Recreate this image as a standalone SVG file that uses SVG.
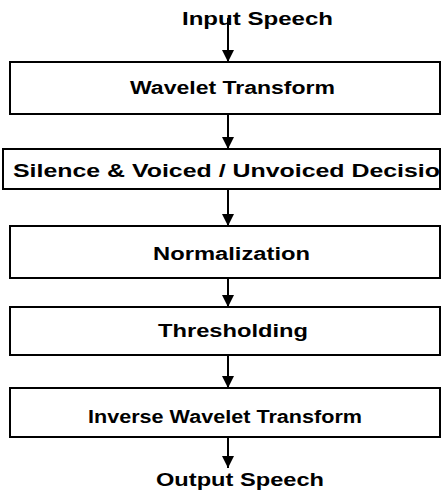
<svg xmlns="http://www.w3.org/2000/svg" width="442" height="492" viewBox="0 0 442 492">
<defs>
<style>
.box{fill:#fff;stroke:#000;stroke-width:2}
.t{font-family:"Liberation Sans",Arial,sans-serif;font-weight:bold;font-size:18px;fill:#000}
.c{stroke:#000;stroke-width:2;fill:none}
</style>
<marker id="ah" viewBox="0 0 12 12" refX="12" refY="6" markerWidth="12" markerHeight="12" markerUnits="userSpaceOnUse" orient="auto">
<path d="M0,0 L12,6 L0,12 Z" fill="#000"/>
</marker>
</defs>
<rect width="442" height="492" fill="#fff"/>
<g id="input"><text class="t" x="182" y="25" textLength="151" lengthAdjust="spacingAndGlyphs">Input Speech</text></g>
<g id="wavelet"><rect class="box" x="10" y="62" width="430" height="52"/><text class="t" x="130" y="94" textLength="205" lengthAdjust="spacingAndGlyphs">Wavelet Transform</text></g>
<g id="decision"><rect class="box" x="3" y="149" width="437" height="40"/><text class="t" x="13" y="177" textLength="427" lengthAdjust="spacingAndGlyphs">Silence &amp; Voiced / Unvoiced Decisio</text></g>
<g id="normalization"><rect class="box" x="10" y="226" width="430" height="52"/><text class="t" x="153" y="260" textLength="157" lengthAdjust="spacingAndGlyphs">Normalization</text></g>
<g id="thresholding"><rect class="box" x="10" y="307" width="430" height="48"/><text class="t" x="158" y="337" textLength="150" lengthAdjust="spacingAndGlyphs">Thresholding</text></g>
<g id="inverse"><rect class="box" x="10" y="388" width="430" height="49"/><text class="t" x="88" y="423" textLength="274" lengthAdjust="spacingAndGlyphs">Inverse Wavelet Transform</text></g>
<g id="output"><text class="t" x="156" y="486" textLength="168" lengthAdjust="spacingAndGlyphs">Output Speech</text></g>
<g id="connectors">
<line class="c" x1="228" y1="18" x2="228" y2="62" marker-end="url(#ah)"/>
<line class="c" x1="228" y1="114" x2="228" y2="149" marker-end="url(#ah)"/>
<line class="c" x1="228" y1="189" x2="228" y2="226" marker-end="url(#ah)"/>
<line class="c" x1="228" y1="278" x2="228" y2="307" marker-end="url(#ah)"/>
<line class="c" x1="228" y1="355" x2="228" y2="388" marker-end="url(#ah)"/>
<line class="c" x1="228" y1="437" x2="228" y2="468" marker-end="url(#ah)"/>
</g>
</svg>
